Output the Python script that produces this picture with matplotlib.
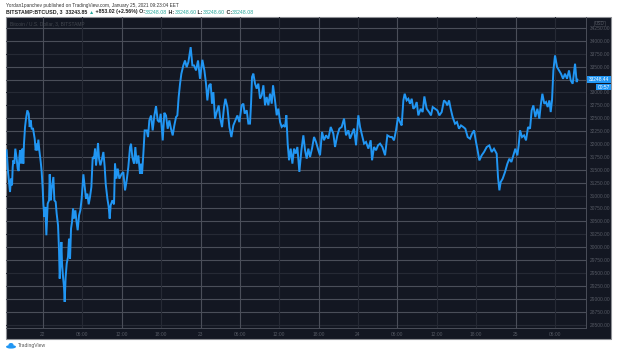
import matplotlib
matplotlib.use("Agg")
import matplotlib.pyplot as plt
from matplotlib.patches import Rectangle, Ellipse

hours = [
-5.54,-5.43,-5.33,-5.18,-5.03,-4.88,-4.72,-4.62,-4.52,-4.37,-4.22,-4.01,-3.86,-3.71,-3.6,-3.5,-3.35,-3.2,-3.1,-3.0,-2.9,-2.74,-2.59,-2.39,-2.18,-2.03,-1.88,-1.73,-1.52,
-1.27,-1.12,-0.96,-0.86,-0.71,-0.56,-0.35,-0.20,-0.05,0.05,0.20,0.36,0.51,0.71,0.92,1.02,1.17,1.32,1.58,1.73,1.93,2.08,2.29,2.44,2.54,2.69,2.80,2.90,3.05,3.20,3.30,3.45,3.61,3.81,3.96,4.12,4.27,4.42,4.57,4.73,4.93,5.08,5.28,5.49,5.69,5.89,6.15,6.35,6.55,6.76,6.96,7.16,7.37,7.57,7.77,7.93,8.08,8.23,8.38,8.54,8.74,8.94,9.20,9.40,9.55,9.81,10.01,10.16,10.31,10.57,10.82,10.97,11.18,11.38,11.63,
11.99,12.24,12.50,12.75,13.00,13.26,13.41,13.61,13.87,14.07,14.27,14.53,14.78,14.93,15.09,15.29,15.49,15.80,16.00,16.20,16.46,16.71,16.97,17.22,17.47,17.73,17.93,18.24,18.49,18.74,19.00,19.25,19.50,19.76,20.01,20.27,20.47,20.67,20.88,21.08,21.38,21.64,21.89,22.15,22.50,22.76,23.01,23.32,23.62,23.92,24.28,24.59,24.84,25.04,25.30,25.55,25.75,25.96,26.21,26.47,26.77,26.97,27.28,27.58,27.79,28.09,28.40,28.70,29.00,29.31,29.62,29.92,
30.27,30.53,30.73,31.04,31.29,31.54,31.70,31.85,32.05,32.31,32.56,32.81,33.07,33.32,33.58,33.83,34.08,34.34,34.59,34.85,35.05,35.35,35.61,35.86,36.12,36.37,36.62,36.88,37.08,37.28,37.49,37.74,38.00,38.25,38.50,38.76,39.06,39.37,39.67,39.93,40.18,40.43,40.69,40.99,41.30,41.60,41.96,42.21,42.52,42.82,43.13,43.48,43.84,44.24,44.50,44.85,45.16,45.51,45.87,46.17,46.53,46.78,47.09,47.39,47.70,48.05,48.31,48.61,48.92,49.22,49.58,49.93,50.14,50.44,50.75,51.05,51.36,51.71,52.12,52.47,52.88,
53.18,53.48,53.79,54.09,54.40,54.65,54.91,55.11,55.41,55.67,55.92,56.18,56.43,56.68,56.94,57.19,57.55,57.85,58.11,58.46,58.82,59.12,59.38,59.73,60.09,60.39,60.75,61.10,61.36,61.61,61.87,62.12,62.42,62.78,63.08,63.39,63.69,64.05,64.35,64.71,65.07,65.37,65.68,65.98,66.18,66.49,66.84,67.20,67.61,68.01,68.37,68.72,69.13,69.33,69.54,69.74,70.04,70.40,70.76,71.06,71.37,71.67,71.97,72.28,72.48,72.69,72.99,73.30,73.60,73.91,74.21,74.46,74.72,75.02,75.33,75.63,75.84,76.09,76.39,76.65,76.90,77.16,77.36,77.56,77.77,78.02,78.33,78.63,78.93,79.24,79.54,79.85,80.15,80.41,80.71,81.07,81.32,81.42]

prices = [
31878,31652,31458,31264,31070,31329,31200,31555,31684,31620,31910,31716,31523,31477,31749,31878,31620,31878,31910,31620,32007,32330,32492,32653,32589,32330,32459,32298,32298,
32104,31878,32007,31878,32085,31878,31652,31458,31135,30844,30586,30780,30231,30844,30909,31413,30909,31135,31361,30909,30877,30651,30424,29940,29391,29746,30101,29682,29423,29229,28939,29423,29682,29811,30166,29779,30360,30489,30747,30554,30715,30521,30328,30618,30715,30941,31413,31167,30941,31038,30831,30974,31167,31749,31716,31910,31587,31781,32020,31716,31587,31684,31846,31555,31232,30941,30780,30554,30812,30909,30831,31620,31329,31523,31329,
31424,31456,31101,31295,31553,31941,32005,31747,31618,31941,31618,31779,31424,31618,31424,31812,32264,32264,32135,32458,32554,32264,32554,32735,32458,32425,32587,32070,32606,32554,32296,32458,32296,32167,32361,32522,32554,32910,33168,33362,33524,33620,33491,33588,33879,33524,33524,33427,33620,33265,33633,33427,33168,32845,33136,33168,32781,33007,32490,32619,32748,32522,32328,32716,32877,32716,32328,32135,32361,32458,32554,32425,
32751,32783,32589,32654,32396,32396,32783,33300,33365,33171,33074,33171,32880,32945,33139,32751,32912,32751,32977,32783,33139,32848,32557,32686,32428,32331,32363,32331,32557,32008,31685,31911,31620,31911,31814,31943,31459,31879,32169,31879,31717,31911,31750,31911,32137,32040,31879,31782,32234,32073,32169,32105,32331,32202,31943,32169,32299,32331,32493,32169,32266,32105,32202,32299,31976,32557,32331,32169,32008,32040,31911,32073,31685,31943,31879,31976,32008,31943,31782,32169,32137,
32135,32071,32265,32523,32426,32361,32846,32975,32846,32878,32781,32878,32684,32717,32814,32555,32684,32620,32923,32684,32620,32555,32717,32684,32652,32555,32620,32846,32814,32749,32846,32684,32523,32394,32426,32297,32361,32329,32297,32135,32103,32200,32265,32039,31909,31683,31780,31845,31942,31974,31845,31909,31812,31360,31102,31263,31328,31457,31619,31715,31651,31780,31909,31780,31974,32265,32135,32168,32071,32329,32297,32652,32749,32523,32684,32491,32749,32975,32781,32814,32717,32846,32620,32846,33427,33718,33492,33427,33363,33266,33363,33266,33427,33234,33169,33557,33201,33248]

price_ticks = [34250,34000,33750,33500,33000,32750,32500,32250,32000,31750,31500,31250,31000,30750,30500,30250,30000,29750,29500,29250,29000,28750,28500]
dim_prices = [33750,33000,32750,32000,31000,30250,29500,28500]
grid_prices = price_ticks + [33250]
time_ticks = [0,6,12,18,24,30,36,42,48,54,60,66,72,78]
time_labels = ["22","06:00","12:00","18:00","23","06:00","12:00","18:00","24","06:00","12:00","18:00","25","06:00"]
dim_times = [6,18,36,48,60,66,78]

W, H = 617, 355
BG, BRIGHT, DIM, TXT = "#131722", "#4a4e59", "#262a35", "#555963"
plt.rcParams["font.family"] = ["Liberation Sans", "DejaVu Sans"]
fig = plt.figure(figsize=(W/100, H/100), dpi=100, facecolor="white")

# page layer in pixel units
pg = fig.add_axes([0, 0, 1, 1]); pg.set_xlim(0, W); pg.set_ylim(H, 0); pg.axis("off")
pg.add_patch(Rectangle((6, 17), 605, 322, fc=BG, ec="#8f9196", lw=0.8))
pg.text(6, 5.5, "Yordan1panchev published on TradingView.com, January 25, 2021 09:23:04 EET",
        fontsize=3.45, color="#333333", va="center")
x0 = 6
for s, c in [("BITSTAMP:BTCUSD, 3  33243.85 ", "#222222"), ("▲", "#26a69a"), (" +853.02 (+2.56%) O:", "#222222"),
             ("33248.08", "#26a69a"), (" H:", "#222222"), ("33248.60", "#26a69a"), (" L:", "#222222"),
             ("33248.60", "#26a69a"), (" C:", "#222222"), ("33248.08", "#26a69a")]:
    t = pg.text(x0, 12, s, fontsize=3.75, color=c, va="center", fontweight="bold" if c == "#222222" else "normal")
    fig.canvas.draw()
    x0 = t.get_window_extent().x1
pg.add_patch(Ellipse((11, 346.8), 10, 3.6, fc="#2196f3", ec="none"))
pg.add_patch(Ellipse((11, 344.8), 5, 3.6, fc="#2196f3", ec="none"))
pg.text(17.5, 346, "TradingView", fontsize=3.6, color="#555555", va="center")

# chart
ax = fig.add_axes([6/W, 1-328/H, 580/W, 311/H], facecolor="none")
ax.set_xlim(-5.64, 82.74)
ax.set_ylim(28433, 34463)
for p in grid_prices:
    ax.axhline(p, color=DIM if p in dim_prices else BRIGHT, lw=0.8, zorder=1)
for t in time_ticks:
    ax.axvline(t, color=DIM if t in dim_times else BRIGHT, lw=0.8, zorder=1)
ax.plot(hours, prices, color="#2196f3", lw=1.4, solid_joinstyle="miter", zorder=3)

ax.yaxis.tick_right()
ax.set_yticks(price_ticks)
ax.set_yticklabels([f"{p:.2f}" for p in price_ticks])
ax.set_xticks(time_ticks)
ax.set_xticklabels(time_labels)
ax.tick_params(axis="both", length=0, labelsize=3.5, labelcolor=TXT)
ax.tick_params(axis="y", pad=3.0)
ax.tick_params(axis="x", pad=2.8)
for s in ["top", "left"]:
    ax.spines[s].set_visible(False)
for s in ["right", "bottom"]:
    ax.spines[s].set_color(BRIGHT); ax.spines[s].set_linewidth(0.7)

# overlays in pixel units
ov = fig.add_axes([0, 0, 1, 1], facecolor="none"); ov.set_xlim(0, W); ov.set_ylim(H, 0); ov.axis("off")
ov.text(10, 24, "Bitcoin / U.S. Dollar, 3, BITSTAMP", fontsize=3.5, color="#43474f", va="center")
ov.add_patch(Rectangle((594, 20.5), 10.5, 5.5, fc=BG, ec="#3a3e48", lw=0.5))
ov.text(599.2, 23.3, "USD", fontsize=3.3, color=TXT, ha="center", va="center")
ov.add_patch(Rectangle((587, 76), 24, 7, fc="#2196f3", ec="none"))
ov.text(599, 79.6, f"{33248.44:.2f}", fontsize=3.5, color="white", ha="center", va="center")
ov.add_patch(Rectangle((596, 84.2), 15, 6.3, fc="#2196f3", ec="none"))
ov.text(603.5, 87.4, "00:57", fontsize=3.5, color="white", ha="center", va="center")

fig.savefig("out.png", dpi=100, facecolor="white")
